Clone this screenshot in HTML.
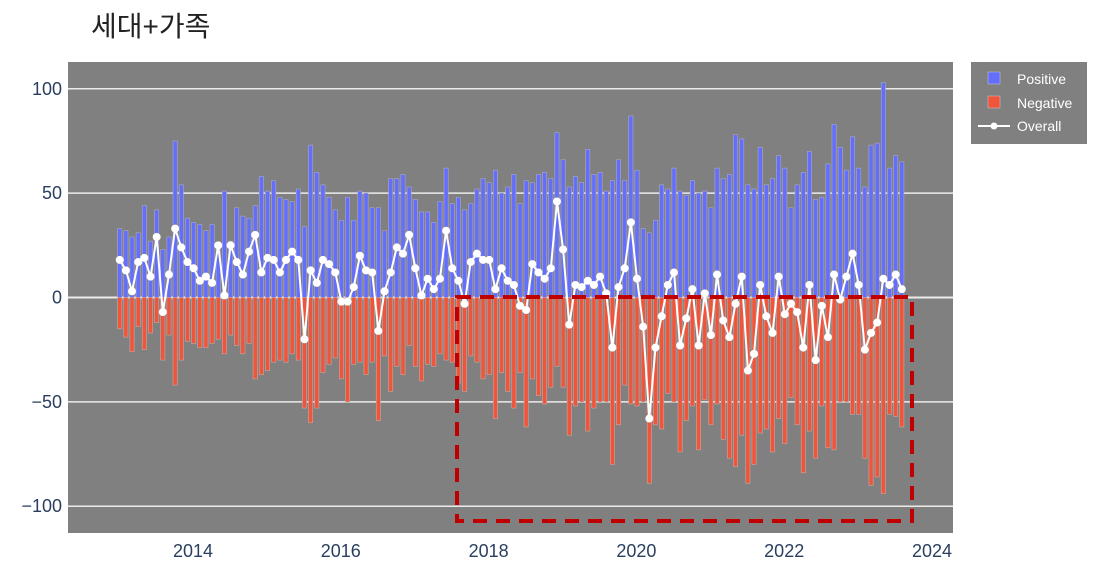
<!DOCTYPE html>
<html><head><meta charset="utf-8">
<style>
html,body{margin:0;padding:0;background:#fff;}
svg{display:block;font-family:"Liberation Sans","Noto Sans CJK KR",sans-serif;}
</style></head>
<body>
<svg id="chart" width="1099" height="571" viewBox="0 0 1099 571" xmlns="http://www.w3.org/2000/svg">
  <text x="91" y="36" font-size="28" fill="#222" font-family="'Liberation Sans','Noto Sans CJK KR',sans-serif">세대+가족</text>
  <rect x="68" y="62" width="885" height="471" fill="#808080"/>
  <g id="grid"></g>
  <g id="bars"></g>
  <g id="line"></g>
  <g id="yticks"></g>
  <g id="xticks"></g>
  <rect x="457" y="297" width="455" height="224" fill="none" stroke="#c00000" stroke-width="4" stroke-dasharray="14,9"/>
  <g>
    <rect x="971" y="62" width="116" height="82" fill="#808080"/>
    <g>
      <rect x="988" y="72" width="12" height="12" fill="#636efa" stroke="#c8c8d8" stroke-width="0.5"/>
      <text x="1017" y="84" font-size="14" fill="#fff">Positive</text>
    </g>
    <g>
      <rect x="988" y="96" width="12" height="12" fill="#ef553b" stroke="#c8c8d8" stroke-width="0.5"/>
      <text x="1017" y="108" font-size="14" fill="#fff">Negative</text>
    </g>
    <g>
      <line x1="978" y1="126" x2="1010" y2="126" stroke="#fff" stroke-width="2"/>
      <circle cx="994" cy="126" r="3.5" fill="#fff"/>
      <text x="1017" y="131" font-size="14" fill="#fff">Overall</text>
    </g>
  </g>
</svg>
<script>
const positive = [33,32,29,31,44,27,42,23,29,75,54,38,36,35,32,35,26,51,27,43,39,38,44,58,51,56,48,47,46,52,34,
73,60,54,48,42,37,48,37,51,50,43,43,32,57,57,59,53,47,41,41,36,46,62,45,48,42,45,52,57,55,61,
50,53,59,45,56,55,59,60,57,79,66,53,58,55,71,59,60,51,56,66,56,87,61,33,31,37,54,52,62,51,49,56,50,
51,43,62,57,59,78,76,54,52,72,54,57,68,62,43,54,60,70,47,48,64,83,72,61,77,62,53,73,74,103,62,68,65];
const negative = [-15,-19,-26,-14,-25,-17,-12,-30,-18,-42,-30,-21,-22,-24,-24,-22,-20,-27,-18,-23,-27,-22,-39,-37,-35,-31,-30,-31,-27,-30,-53,
-60,-53,-36,-32,-29,-39,-50,-32,-31,-37,-31,-59,-28,-45,-33,-37,-23,-33,-40,-32,-33,-27,-30,-31,-41,-45,-28,-31,-39,-37,-58,
-36,-45,-53,-36,-62,-39,-47,-51,-43,-33,-43,-66,-52,-50,-64,-53,-50,-50,-80,-61,-42,-51,-52,-50,-89,-61,-63,-46,-50,-74,-59,-52,-73,
-49,-61,-51,-68,-77,-81,-66,-89,-80,-65,-63,-74,-58,-70,-48,-61,-84,-64,-77,-52,-72,-73,-50,-50,-56,-56,-77,-90,-86,-94,-56,-57,-62];
const overall = [18,13,3,17,19,10,29,-7,11,33,24,17,14,8,10,7,25,1,25,17,11,22,30,12,19,18,12,18,22,18,-20,
13,7,18,16,12,-2,-2,5,20,13,12,-16,3,12,24,21,30,14,1,9,4,9,32,14,8,-3,17,21,18,18,4,
14,8,6,-4,-6,16,12,9,14,46,23,-13,6,5,8,6,10,2,-24,5,14,36,9,-14,-58,-24,-9,6,12,-23,-10,4,-23,
2,-18,11,-11,-19,-3,10,-35,-27,6,-9,-17,10,-8,-3,-7,-24,6,-30,-4,-19,11,-1,10,21,6,-25,-17,-12,9,6,11,4];
const startYear = 2013;
const yTicks = [-100,-50,0,50,100];
const xTicks = [2014,2016,2018,2020,2022,2024];

const NS = "http://www.w3.org/2000/svg";
function yS(v){ return 297.5 - v*2.087; }
function xS(yearFrac){ return 193 + (yearFrac-2014)*73.9; }
function monthX(i){ return xS(startYear + (i+0.1)/12); }
function mk(tag, attrs, parent){ const e=document.createElementNS(NS,tag); for(const k in attrs) e.setAttribute(k,attrs[k]); parent.appendChild(e); return e; }

const grid=document.getElementById('grid'), bars=document.getElementById('bars'), line=document.getElementById('line');
const yt=document.getElementById('yticks'), xt=document.getElementById('xticks');

yTicks.forEach(v=>{
  const g=mk('line',{x1:68,x2:953,y1:yS(v),y2:yS(v),stroke:'#ebebeb','stroke-width':v===0?2:1.5},grid);
  
  
  const t=mk('text',{x:62,y:yS(v)+6,'text-anchor':'end','font-size':18,fill:'#2a3f5f'},yt);
  
  
  t.textContent = v<0 ? '\u2212'+Math.abs(v) : String(v);
});
xTicks.forEach(v=>{
  const t=mk('text',{x:xS(v),y:557,'text-anchor':'middle','font-size':18,fill:'#2a3f5f'},xt);
  
  
  t.textContent=String(v);
});
const bw=4.2;
positive.forEach((v,i)=>{
  const x=monthX(i);
  const r=mk('rect',{x:x-bw/2,y:yS(v),width:bw,height:yS(0)-yS(v),fill:'#636efa',stroke:'#a9a9c8','stroke-width':0.6},bars);
  
  
});
negative.forEach((v,i)=>{
  const x=monthX(i);
  const r=mk('rect',{x:x-bw/2,y:yS(0),width:bw,height:yS(v)-yS(0),fill:'#ef553b',stroke:'#c8a8a0','stroke-width':0.6},bars);
  
  
});
const pts=overall.map((v,i)=>monthX(i).toFixed(1)+','+yS(v).toFixed(1)).join(' ');
const pl=mk('polyline',{points:pts,fill:'none',stroke:'#fff','stroke-width':2},line);


overall.forEach((v,i)=>{
  const c=mk('circle',{cx:monthX(i),cy:yS(v),r:4,fill:'#fff'},line);
  
  
});
</script>
</body></html>
